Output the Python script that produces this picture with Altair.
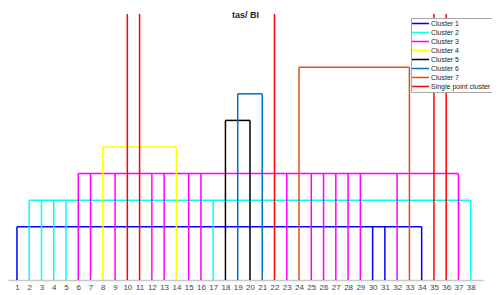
import altair as alt
import pandas as pd

# Cluster names, member positions (1..38) and their link heights
cluster_names = ["Cluster 1", "Cluster 2", "Cluster 3", "Cluster 4",
                 "Cluster 5", "Cluster 6", "Cluster 7", "Single point cluster"]
cluster_members = [
    [1, 30, 31, 34],
    [2, 3, 4, 5, 17, 38],
    [6, 7, 9, 12, 13, 15, 16, 23, 25, 26, 27, 28, 29, 32, 37],
    [8, 14],
    [18, 20],
    [19, 21],
    [24, 33],
    [10, 11, 22, 35, 36],
]
cluster_heights = [0.2, 0.3, 0.4, 0.5, 0.6, 0.7, 0.8, 1.0]
cluster_colors = ["#0000FF", "#00FFFF", "#FF00FF", "#FFFF00",
                  "#000000", "#0072BD", "#D95319", "#FF0000"]
x_ticks = list(range(1, 39))

rows = []
for name, members, h in zip(cluster_names, cluster_members, cluster_heights):
    for m in members:
        rows.append({"cluster": name, "x": m, "x2": m, "y": 0.0, "y2": h})
    if name != "Single point cluster":
        rows.append({"cluster": name, "x": min(members), "x2": max(members), "y": h, "y2": h})
df = pd.DataFrame(rows)

chart = alt.Chart(df).mark_rule(strokeWidth=1.5).encode(
    x=alt.X("x:Q", scale=alt.Scale(domain=[0.27, 39], nice=False, zero=False),
            axis=alt.Axis(values=x_ticks, ticks=False, grid=False, labelAngle=0,
                          domainColor="#c8c8c8", domainWidth=1.5,
                          labelColor="#444444", labelFontSize=8,
                          labelFont="Liberation Sans", labelPadding=3,
                          labelFlush=False),
            title=None),
    x2="x2:Q",
    y=alt.Y("y:Q", scale=alt.Scale(domain=[0, 1], nice=False), axis=None),
    y2="y2:Q",
    color=alt.Color("cluster:N",
                    scale=alt.Scale(domain=cluster_names, range=cluster_colors),
                    sort=cluster_names,
                    legend=alt.Legend(orient="none", legendX=403, legendY=4,
                                      title=None, symbolType="stroke",
                                      symbolSize=289, symbolStrokeWidth=1.5,
                                      symbolOffset=-1, clipHeight=9, rowPadding=-0.2,
                                      labelFontSize=7, labelOffset=1,
                                      labelFont="Liberation Sans", labelColor="#222222",
                                      padding=1, strokeColor="#a8a8a8",
                                      fillColor="white")),
).properties(
    width=475,
    height=266,
    title=alt.TitleParams("tas/ BI", fontSize=9, fontWeight="bold",
                          font="Liberation Sans", color="#222222",
                          anchor="middle", offset=0, dy=7),
    autosize=alt.AutoSizeParams(type="none"),
    padding={"left": 0, "top": 6, "right": 9, "bottom": 15},
).configure_view(strokeWidth=0)

chart.save("out.html", embed_options={"renderer": "svg", "actions": False})
